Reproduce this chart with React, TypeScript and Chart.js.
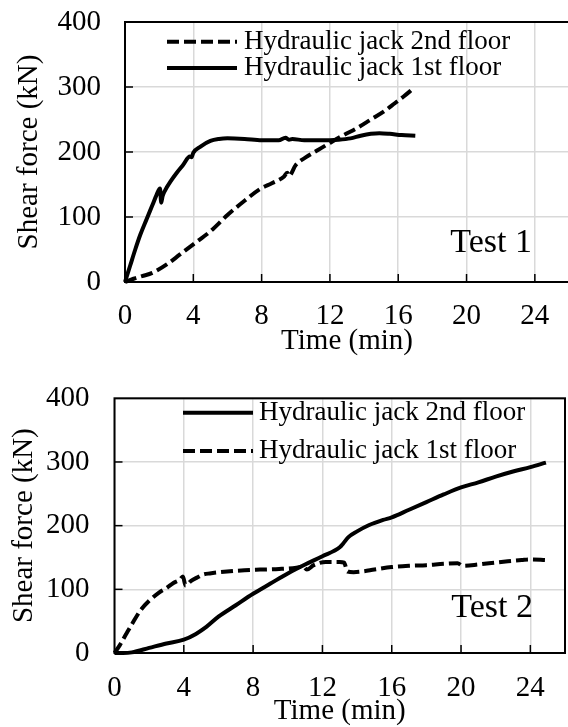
import React, { useEffect, useRef } from "react";
import { Chart, registerables } from "chart.js";
Chart.register(...registerables);

const FONT = '"Liberation Serif", "Times New Roman", Times, serif';

// ---------- Data ----------
const X_TICKS = [0, 4, 8, 12, 16, 20, 24];
const Y_TICKS = [0, 100, 200, 300, 400];

// Test 1
const t1Jack2Time = [0, 0.5, 1.0, 1.6, 2.5, 3.2, 4.0, 5.0, 6.0, 7.0, 7.9, 8.6, 9.3, 9.5, 9.6, 10.0, 10.6, 11.3, 12.0, 12.8, 13.6, 14.4, 15.2, 15.8, 16.3, 16.9];
const t1Jack2Force = [0, 5, 9, 14, 28, 42, 58, 78, 103, 125, 143, 152, 162, 168, 163, 180, 192, 203, 214, 226, 237, 250, 263, 275, 285, 298];
const t1Jack1Time = [0, 0.3, 0.6, 0.9, 1.27, 1.6, 1.85, 2.05, 2.12, 2.2, 2.35, 2.7, 3.0, 3.4, 3.8, 3.9, 4.0, 4.4, 5.0, 5.5, 6.0, 7.0, 8.0, 9.0, 9.4, 9.6, 9.8, 10.5, 11.5, 12.5, 13.2, 13.8, 14.4, 14.9, 15.5, 16.2, 17.0];
const t1Jack1Force = [0, 25, 50, 73, 97, 118, 134, 144, 122, 132, 141, 156, 167, 180, 193, 192, 199, 208, 217, 220, 221, 220, 218, 218, 222, 219, 220, 218, 218, 219, 221, 225, 228, 229, 228, 226, 225];

// Test 2
const t2Jack2Time = [0, 0.5, 1.0, 2.0, 3.0, 4.0, 4.7, 5.3, 6.0, 7.0, 8.0, 9.0, 10.0, 11.0, 12.0, 13.0, 13.2, 13.5, 14.0, 14.7, 15.5, 16.0, 17.0, 18.0, 19.0, 20.0, 21.0, 22.0, 23.0, 24.0, 24.9];
const t2Jack2Force = [0, 0, 1, 8, 15, 21, 30, 41, 57, 75, 93, 109, 125, 139, 152, 166, 172, 182, 191, 201, 209, 213, 225, 237, 249, 260, 268, 277, 285, 292, 299];
const t2Jack1Time = [0, 0.3, 0.7, 1.0, 1.5, 2.0, 2.57, 3.0, 3.4, 3.76, 3.95, 4.1, 4.4, 4.8, 5.1, 5.5, 6.5, 7.5, 8.4, 9.5, 10.5, 10.9, 11.1, 11.5, 12.2, 13.0, 13.25, 13.45, 13.8, 14.3, 15.0, 16.0, 17.0, 18.0, 19.0, 19.8, 20.1, 21.0, 22.0, 22.7, 23.5, 24.0, 24.9];
const t2Jack1Force = [0, 12, 31, 45, 67, 82, 95, 102, 110, 115, 120, 106, 113, 119, 123, 125, 128, 130, 131, 132, 134, 136, 131, 138, 143, 143, 142, 128, 127, 128, 131, 135, 137, 138, 140, 141, 137, 139, 142, 144, 146, 147, 146];

const LABEL_2ND = "Hydraulic jack 2nd floor";
const LABEL_1ST = "Hydraulic jack 1st floor";
const X_TITLE = "Time (min)";
const Y_TITLE = "Shear force (kN)";

type Series = { label: string; t: number[]; v: number[]; dashed: boolean };

type Panel = {
  series: Series[]; // legend order
  testLabel: string;
  canvasW: number;
  canvasH: number;
  area: { left: number; top: number; right: number; bottom: number };
  yTickPad: number;
  xTickPad: number;
  yTitlePad: number;
  xTitlePad: number;
  legend: { x1: number; x2: number; textX: number; ys: number[] };
  test: { x: number; y: number };
};

const DASH = [12, 5];
const TICK_SIZE = 29;
const TITLE_SIZE = 29;

const panels: Panel[] = [
  {
    series: [
      { label: LABEL_2ND, t: t1Jack2Time, v: t1Jack2Force, dashed: true },
      { label: LABEL_1ST, t: t1Jack1Time, v: t1Jack1Force, dashed: false },
    ],
    testLabel: "Test 1",
    canvasW: 580,
    canvasH: 365,
    area: { left: 125, top: 22, right: 569, bottom: 282 },
    yTickPad: 24,
    xTickPad: 17,
    yTitlePad: 15,
    xTitlePad: 9,
    legend: { x1: 167, x2: 237, textX: 244, ys: [41.7, 68] },
    test: { x: 532, y: 252 },
  },
  {
    series: [
      { label: LABEL_2ND, t: t2Jack2Time, v: t2Jack2Force, dashed: false },
      { label: LABEL_1ST, t: t2Jack1Time, v: t2Jack1Force, dashed: true },
    ],
    testLabel: "Test 2",
    canvasW: 568,
    canvasH: 362,
    area: { left: 114.5, top: 33.3, right: 565, bottom: 288 },
    yTickPad: 25,
    xTickPad: 18,
    yTitlePad: 10,
    xTitlePad: 1,
    legend: { x1: 183, x2: 253, textX: 259, ys: [47.7, 86] },
    test: { x: 533, y: 252 },
  },
];

function makeDecor(p: Panel) {
  return {
    id: "decor",
    beforeDatasetsDraw(chart: any) {
      const { ctx, chartArea: a, scales } = chart;
      ctx.save();
      ctx.strokeStyle = "#000";
      ctx.lineWidth = 1.5;
      for (const t of X_TICKS) {
        if (t === 0) continue;
        const x = scales.x.getPixelForValue(t);
        ctx.beginPath();
        ctx.moveTo(x, a.bottom);
        ctx.lineTo(x, a.bottom - 8);
        ctx.stroke();
      }
      for (const v of Y_TICKS) {
        if (v === 0 || v === 400) continue;
        const y = scales.y.getPixelForValue(v);
        ctx.beginPath();
        ctx.moveTo(a.left, y);
        ctx.lineTo(a.left + 8, y);
        ctx.stroke();
      }
      ctx.lineWidth = 2;
      ctx.strokeRect(a.left, a.top, a.right - a.left, a.bottom - a.top);
      ctx.restore();
    },
    afterDraw(chart: any) {
      const { ctx } = chart;
      ctx.save();
      p.series.forEach((s, i) => {
        const y = p.legend.ys[i];
        ctx.strokeStyle = "#000";
        ctx.lineWidth = 4;
        ctx.setLineDash(s.dashed ? DASH : []);
        ctx.beginPath();
        ctx.moveTo(p.legend.x1, y);
        ctx.lineTo(p.legend.x2, y);
        ctx.stroke();
        ctx.setLineDash([]);
        ctx.fillStyle = "#000";
        ctx.font = `27px ${FONT}`;
        ctx.textAlign = "left";
        ctx.textBaseline = "middle";
        ctx.fillText(s.label, p.legend.textX, y);
      });
      ctx.font = `34px ${FONT}`;
      ctx.textAlign = "right";
      ctx.textBaseline = "alphabetic";
      ctx.fillText(p.testLabel, p.test.x, p.test.y);
      ctx.restore();
    },
  };
}

function PanelChart({ p, top }: { p: Panel; top: number }) {
  const ref = useRef<HTMLCanvasElement | null>(null);
  useEffect(() => {
    if (!ref.current) return;
    const a = p.area;
    const chart = new Chart(ref.current, {
      type: "line",
      data: {
        datasets: p.series.map((s) => ({
          label: s.label,
          data: s.t.map((t, i) => ({ x: t, y: s.v[i] })),
          borderColor: "#000",
          backgroundColor: "#000",
          borderWidth: 4,
          borderDash: s.dashed ? DASH : [],
          pointRadius: 0,
          cubicInterpolationMode: "monotone" as const,
          fill: false,
          clip: 4,
        })),
      },
      options: {
        responsive: false,
        animation: false,
        devicePixelRatio: 1,
        layout: {
          padding: { left: 0, top: a.top, right: p.canvasW - a.right, bottom: 0 },
        },
        plugins: { legend: { display: false }, tooltip: { enabled: false } },
        scales: {
          x: {
            type: "linear",
            min: 0,
            max: 26,
            afterFit: (sc: any) => {
              sc.height = p.canvasH - a.bottom;
              sc.paddingLeft = 0;
              sc.paddingRight = 0;
            },
            ticks: {
              stepSize: 4,
              includeBounds: false,
              maxRotation: 0,
              padding: p.xTickPad,
              color: "#000",
              font: { family: FONT, size: TICK_SIZE },
            },
            grid: { color: "#d9d9d9", lineWidth: 1.5, drawTicks: false },
            border: { display: false },
            title: {
              display: true,
              text: X_TITLE,
              color: "#000",
              font: { family: FONT, size: TITLE_SIZE, lineHeight: 1 },
              padding: { top: 0, bottom: p.xTitlePad },
            },
          },
          y: {
            type: "linear",
            min: 0,
            max: 400,
            afterFit: (sc: any) => {
              sc.width = a.left;
              sc.paddingTop = 0;
              sc.paddingBottom = 0;
            },
            ticks: {
              stepSize: 100,
              padding: p.yTickPad,
              color: "#000",
              font: { family: FONT, size: TICK_SIZE },
            },
            grid: { color: "#d9d9d9", lineWidth: 1.5, drawTicks: false },
            border: { display: false },
            title: {
              display: true,
              text: Y_TITLE,
              color: "#000",
              font: { family: FONT, size: TITLE_SIZE, lineHeight: 1 },
              padding: { top: p.yTitlePad, bottom: 0 },
            },
          },
        },
      },
      plugins: [makeDecor(p)],
    } as any);
    return () => chart.destroy();
  }, [p]);
  return (
    <canvas
      ref={ref}
      width={p.canvasW}
      height={p.canvasH}
      style={{ position: "absolute", left: 0, top, width: p.canvasW, height: p.canvasH, display: "block" }}
    />
  );
}

export default function App() {
  return (
    <div
      style={{
        position: "absolute",
        left: 0,
        top: 0,
        width: 568,
        height: 727,
        overflow: "hidden",
        background: "#fff",
      }}
    >
      <PanelChart p={panels[0]} top={0} />
      <PanelChart p={panels[1]} top={365} />
    </div>
  );
}
